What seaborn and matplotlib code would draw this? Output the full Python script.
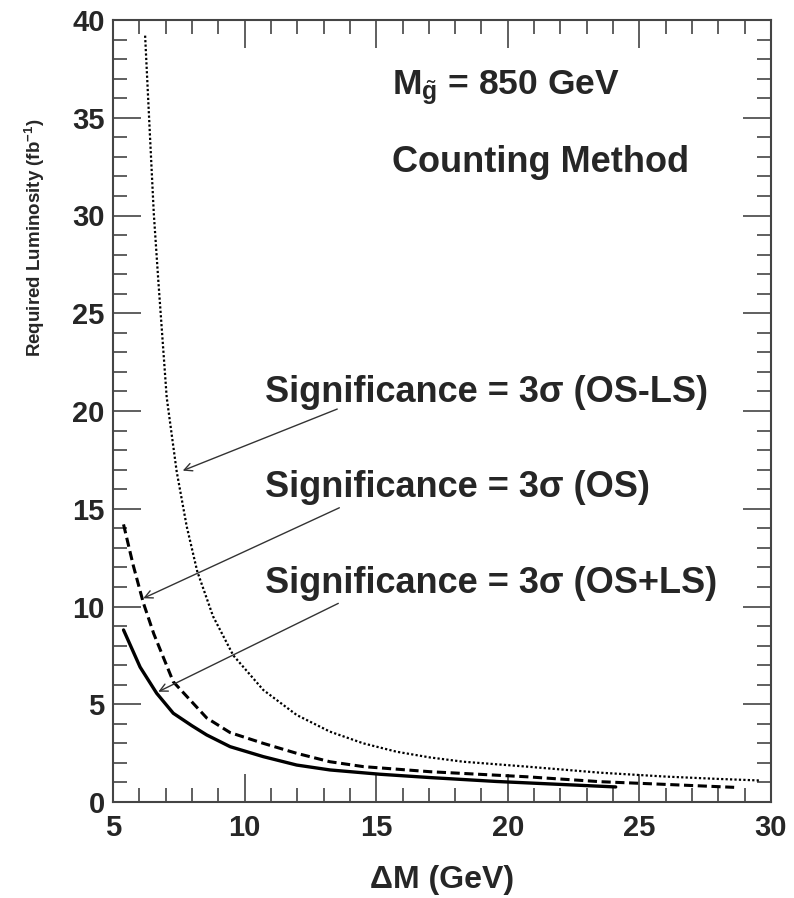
import matplotlib
matplotlib.use("Agg")
import matplotlib.pyplot as plt
import seaborn as sns
from matplotlib.ticker import MultipleLocator
from matplotlib import font_manager

# ---- data ----
dm_osls = [6.22, 6.4, 6.55, 6.72, 7.04, 7.42, 7.8, 8.2, 8.8, 9.57, 10.71, 11.98, 13.24, 14.51,
           15.78, 17.04, 18.31, 20.72, 23.5, 26.0, 28.0, 29.6]
lum_osls = [39.2, 34.2, 30.1, 26.7, 20.7, 16.9, 14.1, 11.8, 9.5, 7.5, 5.73, 4.45, 3.6, 3.0,
            2.57, 2.28, 2.06, 1.81, 1.5, 1.3, 1.18, 1.1]

dm_os = [5.4, 5.77, 6.15, 6.55, 7.29, 8.56, 9.45, 10.71, 11.98, 13.24, 14.51, 17.04, 20.72, 23.5, 26.0, 28.6]
lum_os = [14.2, 12.1, 10.2, 8.6, 6.15, 4.3, 3.55, 3.0, 2.49, 2.06, 1.81, 1.55, 1.29, 1.04, 0.9, 0.75]

dm_osplus = [5.4, 6.03, 6.66, 7.29, 8.0, 8.56, 9.45, 10.71, 11.98, 13.24, 15.14, 17.04, 19.57, 22.0, 24.1]
lum_osplus = [8.8, 6.9, 5.56, 4.54, 3.9, 3.43, 2.83, 2.32, 1.89, 1.64, 1.42, 1.25, 1.05, 0.9, 0.77]

labels = ["Significance = 3σ (OS-LS)", "Significance = 3σ (OS)", "Significance = 3σ (OS+LS)"]
label_pos = [(10.78, 20.48), (10.78, 15.58), (10.78, 10.67)]
arrow_tail = [(13.52, 20.1), (13.6, 15.05), (13.56, 10.16)]
arrow_head = [(7.65, 16.95), (6.15, 10.42), (6.72, 5.64)]

sns.set_theme(style="ticks")
plt.rcParams['font.family'] = ['Liberation Sans', 'DejaVu Sans']
plt.rcParams['mathtext.fontset'] = 'custom'
plt.rcParams['mathtext.rm'] = 'Liberation Sans'
plt.rcParams['mathtext.it'] = 'Liberation Sans:italic'
plt.rcParams['mathtext.bf'] = 'Liberation Sans:bold'

names = {f.name for f in font_manager.fontManager.ttflist}
has_narrow = 'Liberation Sans Narrow' in names
ylab_family = ['Liberation Sans Narrow', 'Liberation Sans'] if has_narrow else ['Liberation Sans']
ylab_size = 16.5 if has_narrow else 13.5

fig = plt.figure(figsize=(7.94, 8.98), dpi=100)
ax = fig.add_axes([113/794, 1-802/898, (771-113)/794, (802-20)/898])

sns.lineplot(x=dm_osls, y=lum_osls, ax=ax, color="black", linewidth=1.6, linestyle=(0, (1, 1)))
sns.lineplot(x=dm_os, y=lum_os, ax=ax, color="black", linewidth=2.2, linestyle=(0, (3, 1.5)))
sns.lineplot(x=dm_osplus, y=lum_osplus, ax=ax, color="black", linewidth=2.4, linestyle="-")

ax.set_xlim(5, 30)
ax.set_ylim(0, 40)
ax.xaxis.set_major_locator(MultipleLocator(5))
ax.xaxis.set_minor_locator(MultipleLocator(1))
ax.yaxis.set_major_locator(MultipleLocator(5))
ax.yaxis.set_minor_locator(MultipleLocator(1))
ax.tick_params(which="both", direction="in", top=True, right=True, color="#444444")
ax.tick_params(which="major", length=20, width=1.2)
ax.tick_params(which="minor", length=10, width=1.2)
ax.tick_params(axis="both", labelsize=21)
ax.tick_params(axis="y", pad=6)
ax.tick_params(axis="x", pad=9)
for lab in ax.get_xticklabels() + ax.get_yticklabels():
    lab.set_fontweight("bold")
for sp in ax.spines.values():
    sp.set_linewidth(1.5)
    sp.set_color("#444444")

ax.set_xlabel("ΔM (GeV)", fontsize=23, fontweight="bold", labelpad=16)
ax.set_ylabel("Required Luminosity (fb$^{\\mathbf{-1}}$)", fontsize=ylab_size, fontweight="bold",
              family=ylab_family)
ax.yaxis.set_label_coords(-0.101, 0.721)

ax.text(15.6, 36.2, "M$_{\\tilde{\\mathbf{g}}}$ = 850 GeV", fontsize=25.5, fontweight="bold", va="baseline")
ax.text(15.6, 32.2, "Counting Method", fontsize=26, fontweight="bold", va="baseline")

for lab, (tx, ty), tail, head in zip(labels, label_pos, arrow_tail, arrow_head):
    ax.text(tx, ty, lab, fontsize=26, fontweight="bold", va="baseline")
    ax.annotate("", xy=head, xytext=tail,
                arrowprops=dict(arrowstyle="->", color="#333333", lw=1.0, mutation_scale=14,
                                shrinkA=0, shrinkB=0))

fig.savefig("out.png", dpi=100)
